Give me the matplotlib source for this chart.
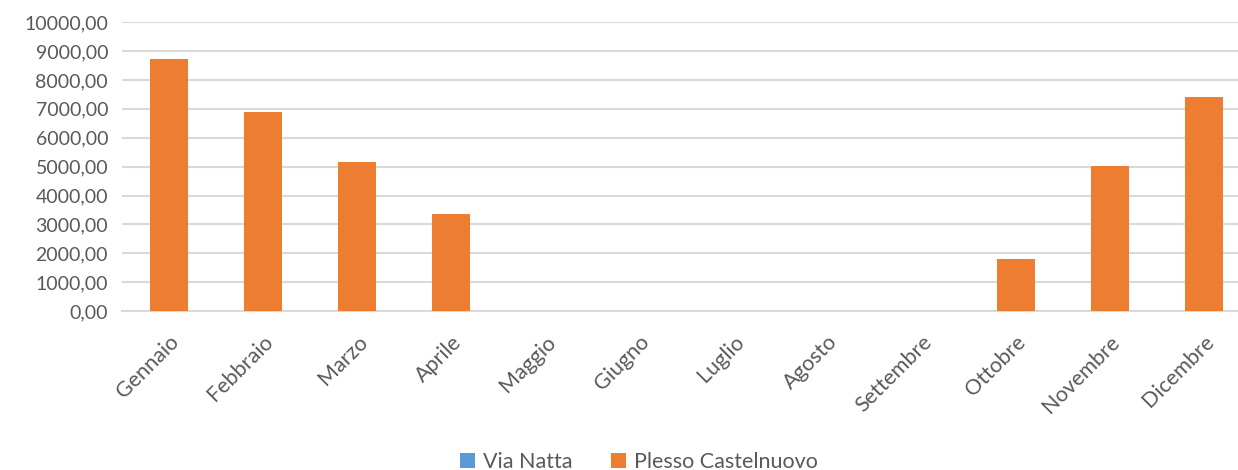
import matplotlib
matplotlib.use("Agg")
import matplotlib.pyplot as plt
import numpy as np
from matplotlib.ticker import FuncFormatter

months = ["Gennaio", "Febbraio", "Marzo", "Aprile", "Maggio", "Giugno", "Luglio",
          "Agosto", "Settembre", "Ottobre", "Novembre", "Dicembre"]
via_natta = [0, 0, 0, 0, 0, 0, 0, 0, 0, 0, 0, 0]
plesso_castelnuovo = [8710, 6900, 5160, 3360, 0, 0, 0, 0, 0, 1815, 5025, 7400]

plt.rcParams['font.family'] = ['Lato', 'DejaVu Sans']
txt = '#595959'
grid = '#D9D9D9'

fig = plt.figure(figsize=(12.38, 4.70), dpi=100)
ax = fig.add_axes([0.0985, 0.338, 0.912, 0.615])

x = np.arange(len(months))
w = 0.40
ax.bar(x, via_natta, w, color='#5B9BD5', label='Via Natta', zorder=3)
ax.bar(x, plesso_castelnuovo, w, color='#ED7D31', label='Plesso Castelnuovo', zorder=3)

ax.set_xlim(-0.5, len(months) - 0.5)
ax.set_ylim(0, 10000)
ax.set_yticks(np.arange(0, 10001, 1000))
ax.yaxis.set_major_formatter(FuncFormatter(lambda v, p: f"{v:.2f}".replace('.', ',')))
ax.grid(axis='y', color=grid, linewidth=1.5, zorder=0)
for s in ['top', 'right', 'left']:
    ax.spines[s].set_visible(False)
ax.spines['bottom'].set_color(grid)
ax.spines['bottom'].set_linewidth(1.5)
ax.tick_params(length=0, colors=txt, labelsize=14)
ax.tick_params(axis='y', pad=10)
ax.tick_params(axis='x', pad=15, labelsize=15.5)
ax.set_xticks(x)
ax.set_xticklabels(months, rotation=45, ha='right', rotation_mode='anchor')

fig.legend(loc='lower center', bbox_to_anchor=(0.516, -0.045), ncol=2, frameon=False,
           fontsize=15.5, labelcolor=txt, handlelength=0.7, handleheight=0.7,
           handletextpad=0.35, columnspacing=1.8)

fig.savefig('out.png', dpi=100)
